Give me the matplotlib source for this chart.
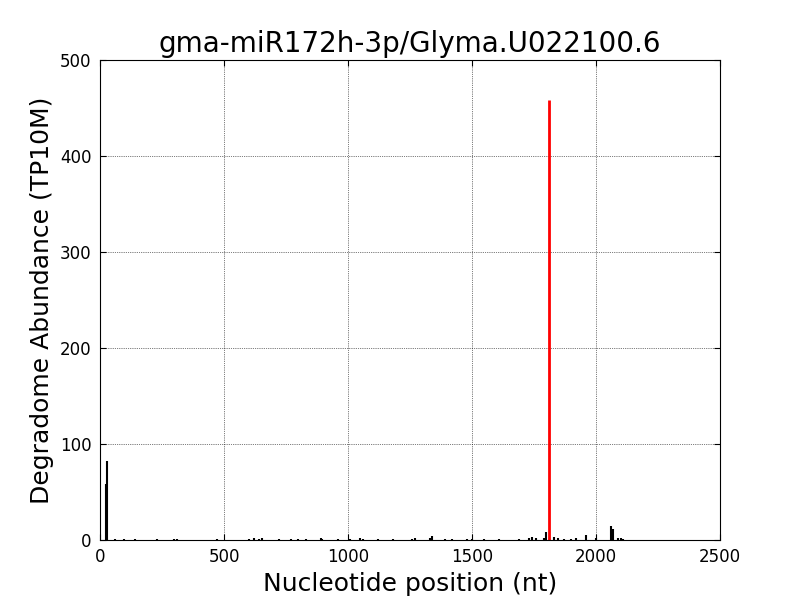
import matplotlib
matplotlib.use("Agg")
import matplotlib.pyplot as plt

title = "gma-miR172h-3p/Glyma.U022100.6"
xlabel = "Nucleotide position (nt)"
ylabel = "Degradome Abundance (TP10M)"

# black degradome peaks (position, abundance)
positions = [24, 28, 60, 95, 140, 230, 300, 310, 470, 600, 620, 640, 655, 720, 770, 800, 830,
             890, 895, 960, 1010, 1050, 1060, 1120, 1180, 1260, 1270, 1330, 1340, 1390, 1420,
             1480, 1500, 1550, 1610, 1690, 1730, 1740, 1760, 1790, 1800, 1830, 1845, 1870,
             1900, 1920, 1960, 2000, 2060, 2070, 2090, 2100, 2110]
abundance = [58, 82, 1, 1, 1, 1, 1, 1, 1, 1, 2, 1, 2, 1, 1, 1, 1,
             2, 1, 1, 1, 2, 1, 1, 1, 1, 2, 2, 4, 1, 1,
             1, 1, 1, 1, 1, 2, 3, 2, 2, 8, 3, 2, 1,
             1, 2, 5, 2, 15, 11, 2, 2, 1]

# cleavage site
cleave_pos = [1810]
cleave_val = [458]

fig = plt.figure(figsize=(8, 6), dpi=100)
ax = fig.add_axes([0.125, 0.1, 0.775, 0.8])
ax.vlines(positions, 0, abundance, color="black", linewidth=1.5)
ax.vlines(cleave_pos, 0, cleave_val, color="red", linewidth=2)
ax.set_xlim(0, 2500)
ax.set_ylim(0, 500)
ax.set_xticks([0, 500, 1000, 1500, 2000, 2500])
ax.set_yticks([0, 100, 200, 300, 400, 500])
ax.grid(True, color="black", linestyle=":", linewidth=0.5)
ax.tick_params(direction="in", top=True, right=True, labelsize=12, length=4, pad=6)
ax.set_title(title, fontsize=20)
ax.set_xlabel(xlabel, fontsize=18)
ax.set_ylabel(ylabel, fontsize=18)
fig.savefig("out.png", dpi=100)
